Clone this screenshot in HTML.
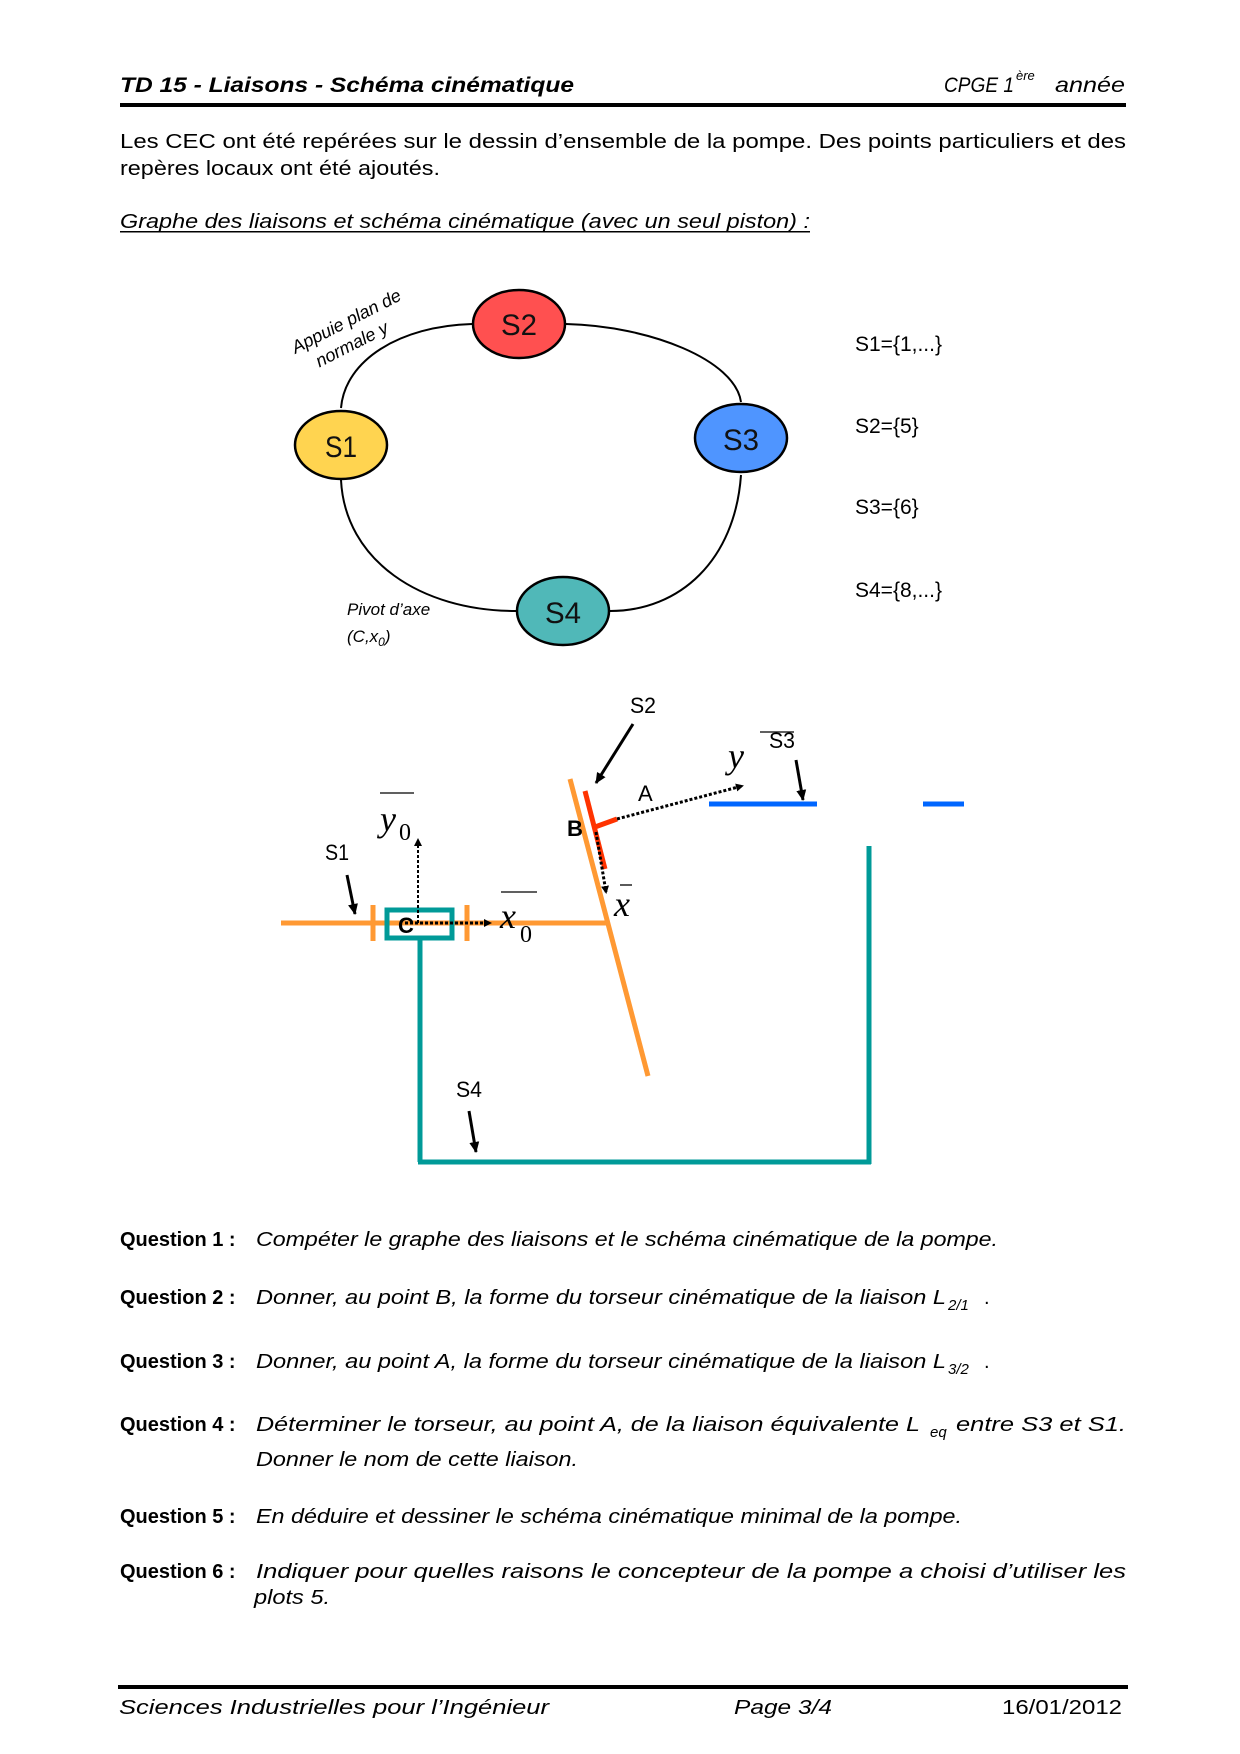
<!DOCTYPE html>
<html><head><meta charset="utf-8"><style>
html,body{margin:0;padding:0;background:#fff}
svg{display:block}
text{font-family:"Liberation Sans",sans-serif}
text.serif{font-family:"Liberation Serif",serif}
</style></head><body>
<svg width="1240" height="1754" viewBox="0 0 1240 1754" xmlns="http://www.w3.org/2000/svg">
<defs>
<marker id="ah" markerWidth="8" markerHeight="8" refX="6" refY="4" orient="auto" markerUnits="userSpaceOnUse"><path d="M0,0 L8,4 L0,8 z" fill="#000"/></marker>
<marker id="ah2" markerWidth="12" markerHeight="12" refX="10" refY="6" orient="auto" markerUnits="userSpaceOnUse"><path d="M0,1 L11,6 L0,11 z" fill="#000"/></marker>
</defs>
<!-- header -->
<text x="120" y="92" font-size="21" font-weight="bold" font-style="italic" textLength="454" lengthAdjust="spacingAndGlyphs">TD 15 - Liaisons - Schéma cinématique</text>
<text x="944" y="92" font-size="21" font-style="italic" textLength="70" lengthAdjust="spacingAndGlyphs">CPGE 1</text>
<text x="1016" y="80" font-size="13" font-style="italic">ère</text>
<text x="1055" y="92" font-size="21" font-style="italic" textLength="70" lengthAdjust="spacingAndGlyphs">année</text>
<rect x="120" y="103" width="1006" height="4" fill="#000"/>
<!-- paragraph -->
<text x="120" y="148" font-size="20" textLength="1006" lengthAdjust="spacingAndGlyphs">Les CEC ont  été repérées sur le dessin d’ensemble de la pompe.  Des points particuliers et des</text>
<text x="120" y="175" font-size="20" textLength="320" lengthAdjust="spacingAndGlyphs">repères locaux ont été ajoutés.</text>
<text x="120" y="228" font-size="20" font-style="italic" textLength="690" lengthAdjust="spacingAndGlyphs">Graphe des liaisons et schéma cinématique (avec un seul piston) :</text>
<rect x="120" y="231" width="690" height="1.5" fill="#000"/>
<!-- graph -->
<g fill="none" stroke="#000" stroke-width="2">
<path d="M341,408 C345,360 400,326 472,324"/>
<path d="M566,324 C650,326 735,360 741,402"/>
<path d="M741,475 C735,560 680,611 610,611"/>
<path d="M516,611 C420,611 345,560 341,480"/>
</g>
<g stroke="#000" stroke-width="2.5">
<ellipse cx="519" cy="324" rx="46" ry="34" fill="#ff5050"/>
<ellipse cx="341" cy="445" rx="46" ry="34" fill="#ffd450"/>
<ellipse cx="741" cy="438" rx="46" ry="34" fill="#4f95ff"/>
<ellipse cx="563" cy="611" rx="46" ry="34" fill="#50b8b8"/>
</g>
<g font-size="30" text-anchor="middle" fill="#111">
<text x="519" y="335" textLength="36" lengthAdjust="spacingAndGlyphs">S2</text>
<text x="341" y="457" textLength="32" lengthAdjust="spacingAndGlyphs">S1</text>
<text x="741" y="450" textLength="36" lengthAdjust="spacingAndGlyphs">S3</text>
<text x="563" y="623" textLength="36" lengthAdjust="spacingAndGlyphs">S4</text>
</g>
<g transform="rotate(-27 340 320)" font-size="18" font-style="italic">
<text x="285" y="330">Appuie plan de</text>
<text x="300" y="353">normale y</text>
</g>
<text x="347" y="615" font-size="17" font-style="italic">Pivot d’axe</text>
<text x="347" y="642" font-size="17" font-style="italic">(C,x<tspan font-size="12" dy="4">0</tspan><tspan dy="-4">)</tspan></text>
<g font-size="21">
<text x="855" y="351">S1={1,...}</text>
<text x="855" y="433">S2={5}</text>
<text x="855" y="514">S3={6}</text>
<text x="855" y="597">S4={8,...}</text>
</g>
<!-- kinematic schema -->
<g stroke-width="5" fill="none">
<line x1="420" y1="938" x2="420" y2="1162" stroke="#009a98"/>
<line x1="418" y1="1162" x2="871" y2="1162" stroke="#009a98"/>
<line x1="869" y1="1164" x2="869" y2="846" stroke="#009a98"/>
<line x1="281" y1="923" x2="609" y2="923" stroke="#ff9933"/>
<line x1="570" y1="779" x2="648" y2="1076" stroke="#ff9933"/>
<line x1="373" y1="905" x2="373" y2="941" stroke="#ff9933"/>
<line x1="467" y1="905" x2="467" y2="941" stroke="#ff9933"/>
<rect x="387" y="910" width="65" height="28" stroke="#009a98"/>
<line x1="585" y1="791" x2="605" y2="869" stroke="#ff3300"/>
<line x1="595" y1="827" x2="617" y2="819" stroke="#ff3300"/>
<line x1="709" y1="804" x2="817" y2="804" stroke="#0066ff"/>
<line x1="923" y1="804" x2="964" y2="804" stroke="#0066ff"/>
</g>
<g stroke="#000" stroke-width="3" stroke-dasharray="3,2" fill="none">
<line x1="418" y1="923" x2="418" y2="840" stroke-width="2" marker-end="url(#ah)"/>
<line x1="405" y1="923" x2="490" y2="923" marker-end="url(#ah)"/>
<line x1="617" y1="819" x2="742" y2="786" marker-end="url(#ah)"/>
<line x1="596" y1="832" x2="606" y2="892" marker-end="url(#ah)"/>
</g>
<g stroke="#000" stroke-width="3">
<line x1="633" y1="724" x2="596" y2="783" marker-end="url(#ah2)"/>
<line x1="796" y1="760" x2="803" y2="800" marker-end="url(#ah2)"/>
<line x1="347" y1="875" x2="355" y2="914" marker-end="url(#ah2)"/>
<line x1="469" y1="1111" x2="476" y2="1152" marker-end="url(#ah2)"/>
</g>
<g font-size="22">
<text x="630" y="713" textLength="26" lengthAdjust="spacingAndGlyphs">S2</text>
<text x="769" y="748" textLength="26" lengthAdjust="spacingAndGlyphs">S3</text>
<text x="325" y="860" textLength="24" lengthAdjust="spacingAndGlyphs">S1</text>
<text x="456" y="1097" textLength="26" lengthAdjust="spacingAndGlyphs">S4</text>
<text x="638" y="801">A</text>
<text x="567" y="836" font-weight="bold">B</text>
<text x="398" y="933" font-weight="bold">C</text>
</g>
<g font-size="36">
<text class="serif" x="380" y="831" font-style="italic">y</text><text class="serif" x="399" y="840" font-size="24">0</text>
<text class="serif" x="500" y="928" font-style="italic">x</text><text class="serif" x="520" y="942" font-size="24">0</text>
<text class="serif" x="728" y="768" font-style="italic">y</text>
<text class="serif" x="614" y="916" font-style="italic">x</text>
</g>
<g stroke="#000" stroke-width="1.3">
<line x1="380" y1="793" x2="414" y2="793"/>
<line x1="501" y1="892" x2="537" y2="892"/>
<line x1="760" y1="732" x2="794" y2="732"/>
<line x1="620" y1="885" x2="632" y2="885"/>
</g>
<!-- questions -->
<g font-size="20">
<text x="120" y="1246" font-weight="bold">Question 1 :</text>
<text x="256" y="1246" font-style="italic" textLength="742" lengthAdjust="spacingAndGlyphs">Compéter le graphe des liaisons et le schéma cinématique de la pompe.</text>
<text x="120" y="1304" font-weight="bold">Question 2 :</text>
<text x="256" y="1304" font-style="italic" textLength="690" lengthAdjust="spacingAndGlyphs">Donner, au point B, la forme du torseur cinématique de la liaison L</text>
<text x="948" y="1310" font-size="15" font-style="italic">2/1</text><text x="984" y="1304">.</text>
<text x="120" y="1368" font-weight="bold">Question 3 :</text>
<text x="256" y="1368" font-style="italic" textLength="690" lengthAdjust="spacingAndGlyphs">Donner, au point A, la forme du torseur cinématique de la liaison L</text>
<text x="948" y="1374" font-size="15" font-style="italic">3/2</text><text x="984" y="1368">.</text>
<text x="120" y="1431" font-weight="bold">Question 4 :</text>
<text x="256" y="1431" font-style="italic" textLength="664" lengthAdjust="spacingAndGlyphs">Déterminer le torseur, au point A, de la liaison équivalente L</text>
<text x="930" y="1437" font-size="15" font-style="italic">eq</text>
<text x="956" y="1431" font-style="italic" textLength="170" lengthAdjust="spacingAndGlyphs">entre S3 et S1.</text>
<text x="256" y="1466" font-style="italic" textLength="322" lengthAdjust="spacingAndGlyphs">Donner le nom de cette liaison.</text>
<text x="120" y="1523" font-weight="bold">Question 5 :</text>
<text x="256" y="1523" font-style="italic" textLength="706" lengthAdjust="spacingAndGlyphs">En déduire et dessiner le schéma cinématique minimal de la pompe.</text>
<text x="120" y="1578" font-weight="bold">Question 6 :</text>
<text x="256" y="1578" font-style="italic" textLength="870" lengthAdjust="spacingAndGlyphs">Indiquer pour quelles raisons le concepteur de la pompe a choisi d’utiliser les</text>
<text x="254" y="1604" font-style="italic" textLength="76" lengthAdjust="spacingAndGlyphs">plots 5.</text>
</g>
<!-- footer -->
<rect x="118" y="1685" width="1010" height="4" fill="#000"/>
<g font-size="20" font-style="italic">
<text x="119" y="1714" textLength="430" lengthAdjust="spacingAndGlyphs">Sciences Industrielles pour l’Ingénieur</text>
<text x="734" y="1714" textLength="98" lengthAdjust="spacingAndGlyphs">Page 3/4</text>
<text x="1002" y="1714" font-style="normal" textLength="120" lengthAdjust="spacingAndGlyphs">16/01/2012</text>
</g>
</svg>
</body></html>
